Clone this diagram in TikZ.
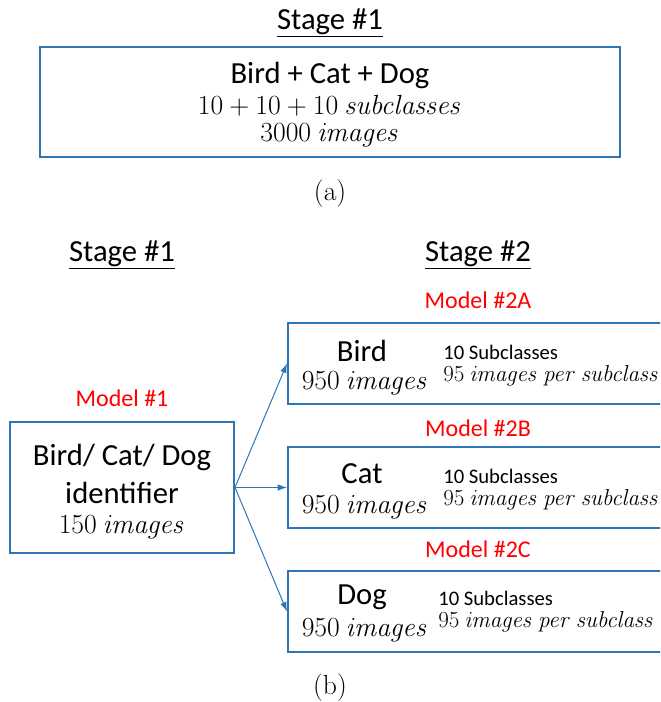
\documentclass[tikz,border=0pt]{standalone}
\usepackage[no-math]{fontspec}
\setmainfont{Carlito}
\usepackage{tikz}
\usetikzlibrary{arrows.meta}
\definecolor{boxblue}{RGB}{46,117,182}
\definecolor{modelred}{RGB}{255,0,0}

\begin{document}
\begin{tikzpicture}[x=0.75pt, y=-0.75pt,
  box/.style={draw=boxblue, line width=1.5pt},
  titletext/.style={inner sep=0pt, font=\fontsize{23}{27}\selectfont},
  modeltag/.style={inner sep=0pt, text=modelred, font=\fontsize{18}{21}\selectfont},
  mathtext/.style={inner sep=0pt, font=\fontsize{19.5}{23}\selectfont},
  subtext/.style={inner sep=0pt, anchor=west, font=\fontsize{15.5}{18}\selectfont},
  submath/.style={inner sep=0pt, anchor=west, font=\fontsize{16.5}{19}\selectfont},
  arrowlink/.style={-{Latex[length=7pt,width=5pt]}, boxblue, line width=0.75pt}]
\useasboundingbox (0,0) rectangle (660,702);
\clip (0,0) rectangle (660,702);

% (a) single stage
\node[titletext] (titleA) at (330,23) {\underline{Stage \#1}};
\node[box, minimum width=435pt, minimum height=82.5pt] (all) at (330,102) {};
\node[titletext] (allname) at (330,75) {Bird + Cat + Dog};
\node[mathtext] (allsub) at (330,106) {$10+10+10\ \mathit{subclasses}$};
\node[mathtext] (allimg) at (330,135) {$3000\ \mathit{images}$};
\node[mathtext] (capA) at (330,194) {$(\mathrm{a})$};

% (b) stage titles
\node[titletext] (titleB1) at (122,255) {\underline{Stage \#1}};
\node[titletext] (titleB2) at (478,255) {\underline{Stage \#2}};

% Model #1
\node[modeltag] (tag1) at (122,398) {Model \#1};
\node[box, minimum width=168pt, minimum height=98.25pt] (ident) at (122,487.5) {};
\node[titletext] (identA) at (122,457) {Bird/ Cat/ Dog};
\node[titletext] (identB) at (122,493) {identifier};
\node[mathtext] (identC) at (122,527) {$150\ \mathit{images}$};

% Model #2A
\node[modeltag] (tag2a) at (478,300) {Model \#2A};
\node[box, minimum width=330pt, minimum height=60.75pt] (bird) at (508,363.5) {};
\node[titletext] (birdname) at (362,351) {Bird};
\node[mathtext] (birdimg) at (365,383) {$950\ \mathit{images}$};
\node[subtext] (birdsub) at (443,352) {10 Subclasses};
\node[submath] (birdper) at (443,376) {$95\ \mathit{images\ per\ subclass}$};

% Model #2B
\node[modeltag] (tag2b) at (478,428) {Model \#2B};
\node[box, minimum width=330pt, minimum height=60.75pt] (cat) at (508,487.5) {};
\node[titletext] (catname) at (362,474) {Cat};
\node[mathtext] (catimg) at (365,507) {$950\ \mathit{images}$};
\node[subtext] (catsub) at (443,476) {10 Subclasses};
\node[submath] (catper) at (443,500) {$95\ \mathit{images\ per\ subclass}$};

% Model #2C
\node[modeltag] (tag2c) at (478,549) {Model \#2C};
\node[box, minimum width=330pt, minimum height=60.75pt] (dog) at (508,611.5) {};
\node[titletext] (dogname) at (362,597) {Dog};
\node[mathtext] (dogimg) at (365,630) {$950\ \mathit{images}$};
\node[subtext] (dogsub) at (438,598) {10 Subclasses};
\node[submath] (dogper) at (438,622) {$95\ \mathit{images\ per\ subclass}$};

% links
\draw[arrowlink] (ident.east) -- (bird.west);
\draw[arrowlink] (ident.east) -- (cat.west);
\draw[arrowlink] (ident.east) -- (dog.west);

\node[mathtext] (capB) at (330,688) {$(\mathrm{b})$};
\end{tikzpicture}
\end{document}
